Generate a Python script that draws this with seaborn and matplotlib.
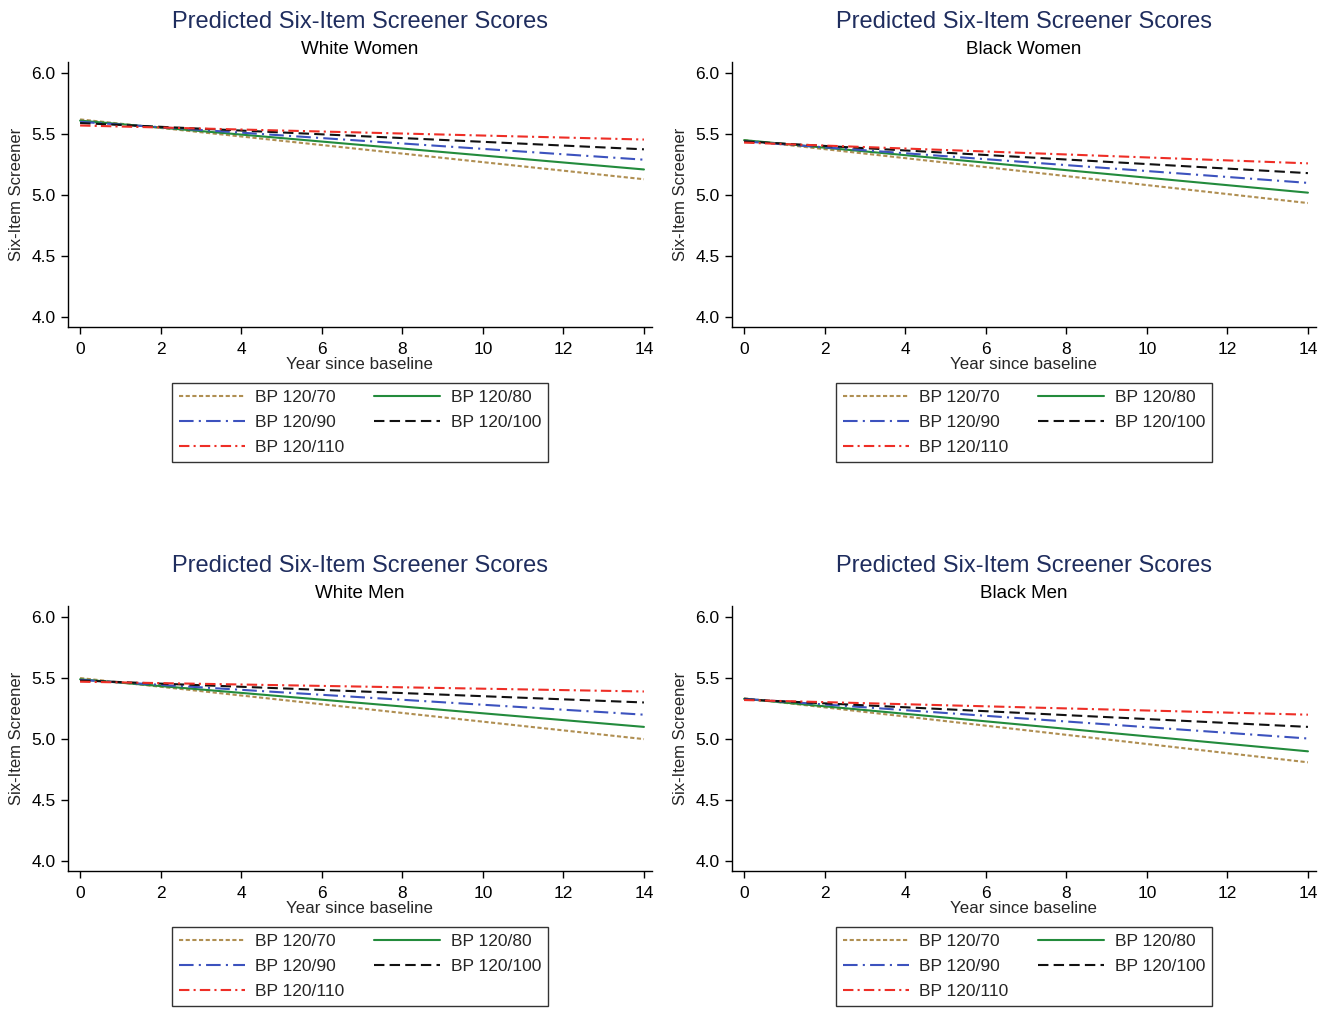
import pandas as pd
import matplotlib
matplotlib.use('Agg')
import matplotlib.pyplot as plt
from matplotlib.lines import Line2D
import seaborn as sns

# data (predicted score at baseline and at year 14)
years = [0, 14]
bp_levels = ['BP 120/70', 'BP 120/80', 'BP 120/90', 'BP 120/100', 'BP 120/110']
groups = ['White Women', 'Black Women', 'White Men', 'Black Men']

white_women_start = [5.62, 5.61, 5.60, 5.59, 5.57]
white_women_end = [5.13, 5.21, 5.29, 5.375, 5.455]
black_women_start = [5.45, 5.45, 5.44, 5.44, 5.43]
black_women_end = [4.935, 5.02, 5.10, 5.18, 5.26]
white_men_start = [5.50, 5.49, 5.485, 5.48, 5.47]
white_men_end = [5.00, 5.10, 5.20, 5.30, 5.39]
black_men_start = [5.335, 5.33, 5.33, 5.325, 5.32]
black_men_end = [4.81, 4.90, 5.005, 5.10, 5.20]

starts = [white_women_start, black_women_start, white_men_start, black_men_start]
ends = [white_women_end, black_women_end, white_men_end, black_men_end]

colors = ['#B08F52', '#238B3C', '#3C52BE', '#111111', '#EE2E26']
dash_styles = [(2, 1.2), '', (7, 2.5, 1, 2.5), (5, 2.5), (5, 2, 1, 2)]

rows = []
for g, s_vals, e_vals in zip(groups, starts, ends):
    for bp, s, e in zip(bp_levels, s_vals, e_vals):
        rows.append({'group': g, 'bp': bp, 'year': years[0], 'score': s})
        rows.append({'group': g, 'bp': bp, 'year': years[1], 'score': e})
df = pd.DataFrame(rows)

sns.set_style('ticks')
plt.rcParams['font.family'] = ['Liberation Sans', 'DejaVu Sans']
plt.rcParams['lines.scale_dashes'] = True

fig = plt.figure(figsize=(13.31, 10.09), dpi=100)
W, H = 1331, 1009

# axes boxes in pixels: left, top, right, bottom
boxes = [(68, 62, 652, 327), (732, 62, 1316, 327),
         (68, 606, 652, 871), (732, 606, 1316, 871)]

palette = dict(zip(bp_levels, colors))
dashes = dict(zip(bp_levels, dash_styles))
leg_order = ['BP 120/70', 'BP 120/90', 'BP 120/110', 'BP 120/80', 'BP 120/100']

for g, (l, t, r, b) in zip(groups, boxes):
    ax = fig.add_axes([l / W, 1 - b / H, (r - l) / W, (b - t) / H])
    sub = df[df['group'] == g]
    sns.lineplot(data=sub, x='year', y='score', hue='bp', style='bp',
                 hue_order=bp_levels, style_order=bp_levels,
                 palette=palette, dashes=dashes, linewidth=1.5,
                 legend=False, ax=ax)
    ax.set_xlim(-0.3, 14.2)
    ax.set_ylim(3.92, 6.09)
    ax.set_xticks(range(0, 15, 2))
    ax.set_yticks([4.0, 4.5, 5.0, 5.5, 6.0])
    ax.set_yticklabels([f'{v:.1f}' for v in [4.0, 4.5, 5.0, 5.5, 6.0]])
    ax.tick_params(axis='both', labelsize=12.5, length=5, width=1, pad=4,
                   colors='black')
    ax.tick_params(axis='x', pad=6)
    for sp in ['top', 'right']:
        ax.spines[sp].set_visible(False)
    for sp in ['left', 'bottom']:
        ax.spines[sp].set_color('black')
        ax.spines[sp].set_linewidth(1)
    ax.set_xlabel('Year since baseline', fontsize=12.2, labelpad=0)
    ax.set_ylabel('Six-Item Screener', fontsize=12, labelpad=5)

    cx = (l + r) / 2 / W
    fig.text(cx, 1 - (t - 40) / H, 'Predicted Six-Item Screener Scores',
             ha='center', va='center', fontsize=17, color='#1F2D5E')
    fig.text(cx, 1 - (t - 12) / H, g, ha='center', va='center', fontsize=13.5,
             color='black')

    handles = []
    for bp in leg_order:
        d = dashes[bp]
        h = Line2D([], [], color=palette[bp], linewidth=1.5,
                   linestyle='-' if d == '' else (0, d))
        handles.append(h)
    leg = ax.legend(handles, leg_order, ncol=2, loc='upper center',
                    bbox_to_anchor=(cx, 1 - (b + 56) / H),
                    bbox_transform=fig.transFigure, fontsize=12.5,
                    frameon=True, fancybox=False, edgecolor='black',
                    handlelength=3.8, handletextpad=0.6, columnspacing=1.7,
                    labelspacing=0.55, borderpad=0.42, borderaxespad=0)
    leg.get_frame().set_linewidth(1)

fig.savefig('out.png', dpi=100)
